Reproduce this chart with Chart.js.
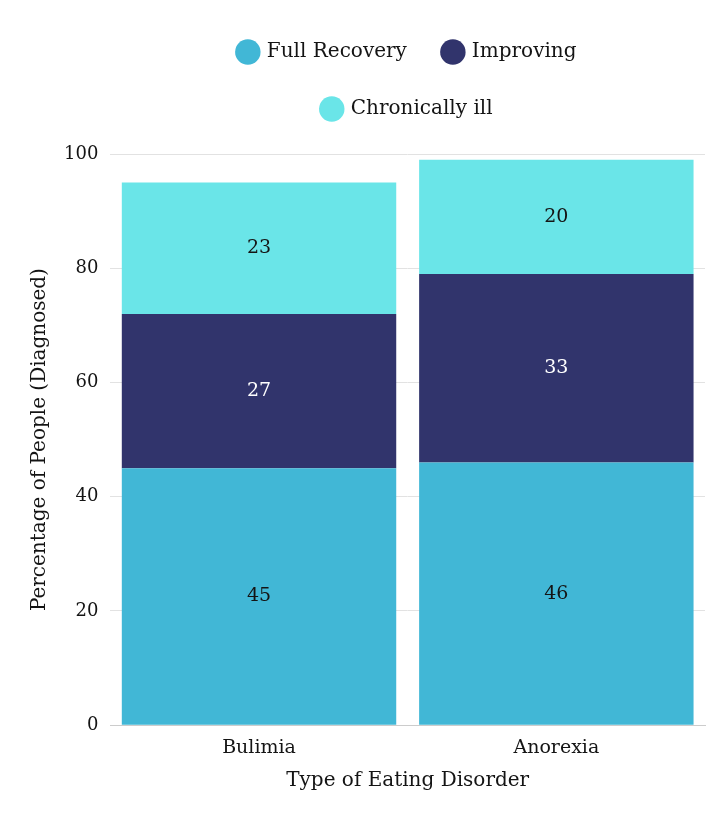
<!DOCTYPE html>
<html>
<head>
<meta charset="utf-8">
<script src="https://cdn.jsdelivr.net/npm/chart.js@4.4.0/dist/chart.umd.min.js"></script>
<style>
    html, body { margin: 0; padding: 0; background: #fff; }
    .chart-wrap { position: relative; width: 720px; height: 825px; }
</style>
</head>
<body>
<div class="chart-wrap">
    <canvas id="recoveryChart"></canvas>
</div>
<script>
// Chart data
const categories = ['Bulimia', 'Anorexia'];
const seriesNames = ['Full Recovery', 'Improving', 'Chronically ill'];
const fullRecovery = [45, 46];
const improving = [27, 33];
const chronicallyIll = [23, 20];
const yTicks = [0, 20, 40, 60, 80, 100];

const seriesColors = ['#41B7D6', '#31346C', '#6AE5E8'];
const labelColors = ['#141414', '#ffffff', '#141414'];
const fontFamily = '"DejaVu Serif", "Liberation Serif", serif';

// Draws the value in the middle of each stacked segment
const segmentLabels = {
    id: 'segmentLabels',
    afterDatasetsDraw(chart) {
        const ctx = chart.ctx;
        ctx.save();
        ctx.font = '19px ' + fontFamily;
        ctx.textAlign = 'center';
        ctx.textBaseline = 'middle';
        chart.data.datasets.forEach((ds, i) => {
            const meta = chart.getDatasetMeta(i);
            meta.data.forEach((bar, j) => {
                ctx.fillStyle = labelColors[i];
                ctx.fillText(ds.data[j], bar.x, (bar.y + bar.base) / 2);
            });
        });
        ctx.restore();
    }
};

// Leaves some extra room under the legend
const legendSpacer = {
    id: 'legendSpacer',
    beforeInit(chart) {
        const originalFit = chart.legend.fit;
        chart.legend.fit = function fit() {
            originalFit.bind(chart.legend)();
            this.height += 25;
        };
    }
};

const seriesValues = [fullRecovery, improving, chronicallyIll];

new Chart(document.getElementById('recoveryChart'), {
    type: 'bar',
    data: {
        labels: categories,
        datasets: seriesNames.map((name, i) => ({
            label: name,
            data: seriesValues[i],
            backgroundColor: seriesColors[i],
            borderWidth: 0,
            categoryPercentage: 0.923,
            barPercentage: 1
        }))
    },
    options: {
        responsive: true,
        maintainAspectRatio: false,
        animation: false,
        layout: {
            padding: { top: 5, left: 18.5, right: 15, bottom: 28 }
        },
        plugins: {
            legend: {
                position: 'top',
                fullSize: false,
                labels: {
                    usePointStyle: true,
                    pointStyle: 'circle',
                    boxWidth: 18,
                    boxHeight: 18,
                    padding: 37,
                    color: '#141414',
                    font: { family: fontFamily, size: 20 }
                }
            },
            tooltip: { enabled: false }
        },
        scales: {
            x: {
                stacked: true,
                grid: { display: false },
                border: { display: true, color: '#cccccc' },
                ticks: {
                    color: '#141414',
                    padding: 3,
                    font: { family: fontFamily, size: 19 }
                },
                title: {
                    display: true,
                    text: 'Type of Eating Disorder',
                    color: '#141414',
                    padding: { top: 7, bottom: 4 },
                    font: { family: fontFamily, size: 20 }
                }
            },
            y: {
                stacked: true,
                min: 0,
                max: 100,
                afterBuildTicks: (axis) => {
                    axis.ticks = yTicks.map(v => ({ value: v }));
                },
                grid: {
                    color: '#e2e2e2',
                    drawTicks: false
                },
                border: { display: false },
                ticks: {
                    color: '#141414',
                    padding: 12,
                    font: { family: fontFamily, size: 18 }
                },
                title: {
                    display: true,
                    text: 'Percentage of People (Diagnosed)',
                    color: '#141414',
                    padding: { top: 9.5, bottom: 0 },
                    font: { family: fontFamily, size: 20 }
                }
            }
        }
    },
    plugins: [legendSpacer, segmentLabels]
});
</script>
</body>
</html>
